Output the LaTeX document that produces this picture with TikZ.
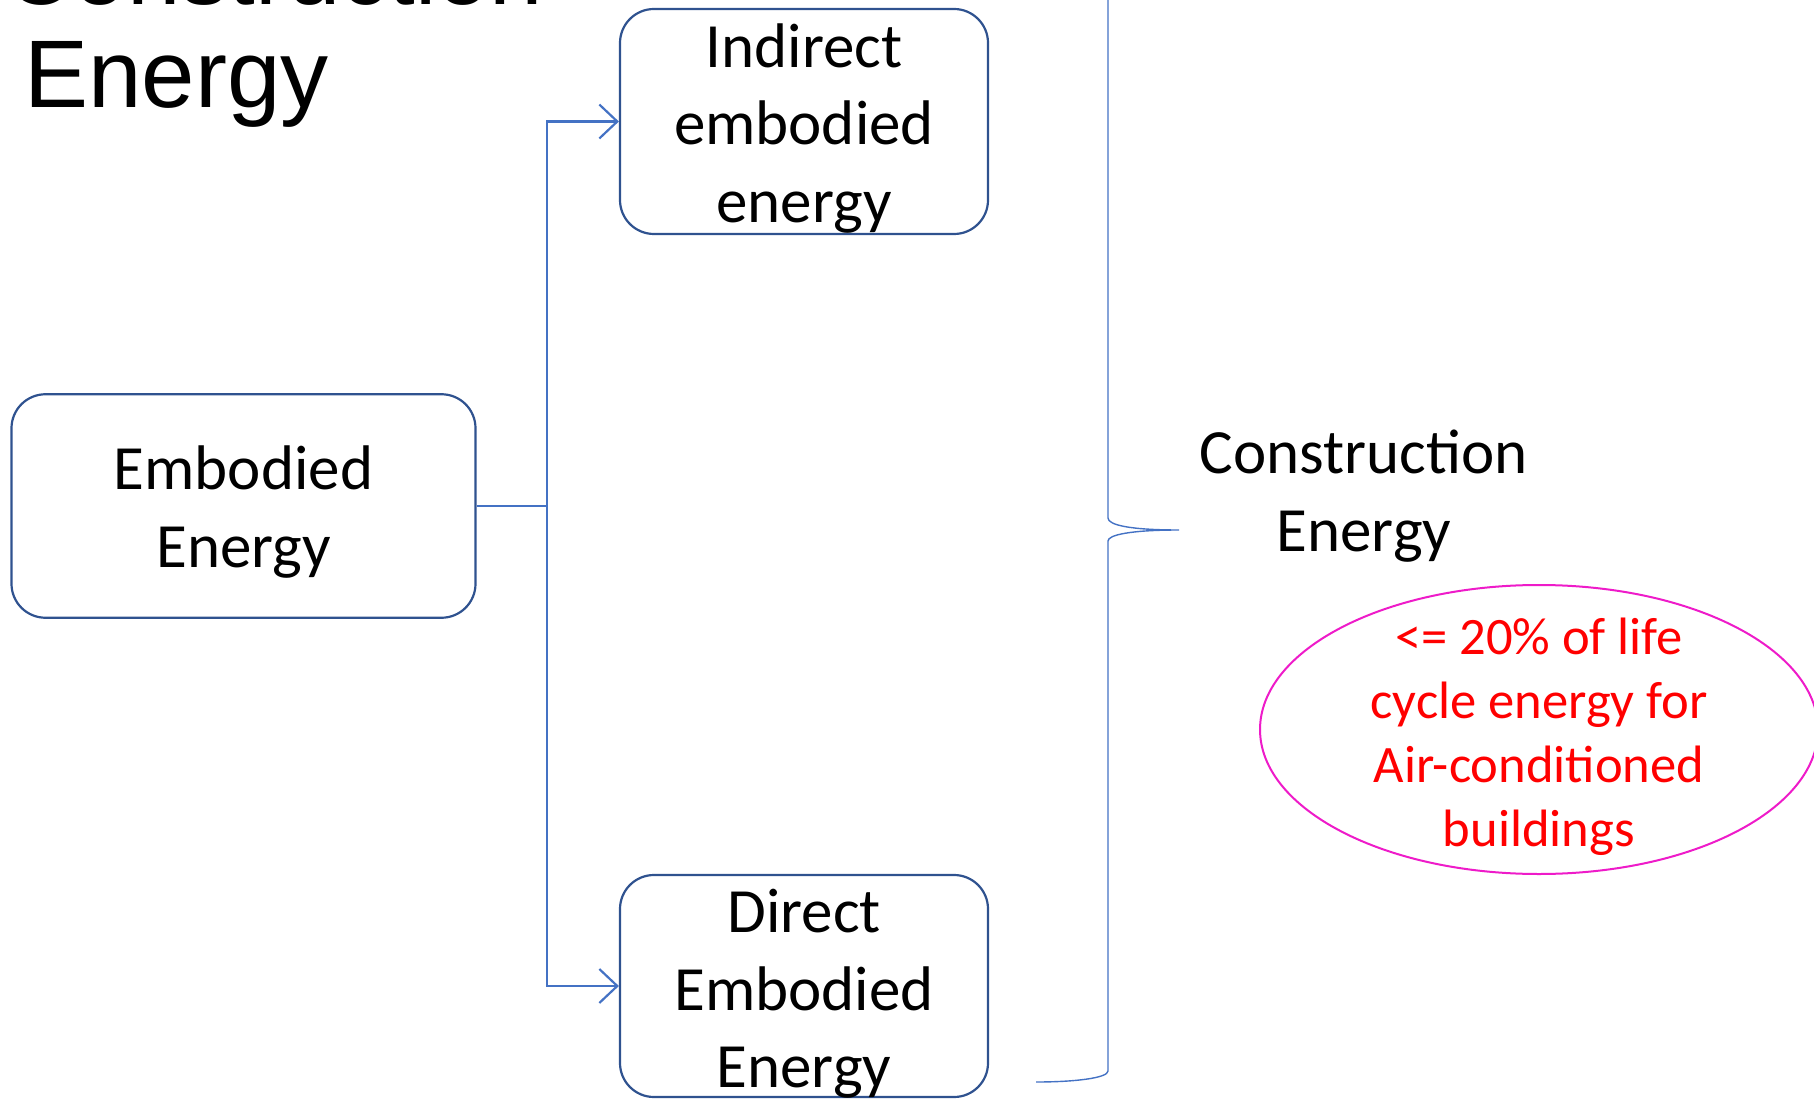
\documentclass[tikz,border=0pt]{standalone}
\usepackage{fontspec}
\setmainfont{Carlito}
\newfontfamily\titlefont{Liberation Sans}
\usetikzlibrary{arrows.meta,shapes.geometric}
\definecolor{boxline}{HTML}{2F528F}
\definecolor{linkblue}{HTML}{4472C4}
\definecolor{ovalline}{HTML}{EE1BC9}
\definecolor{notered}{HTML}{FF0000}
\begin{document}
\begin{tikzpicture}[x=0.5pt,y=-0.5pt,
  box/.style={draw=boxline, line width=1.1pt, rounded corners=17pt, inner sep=0pt},
  boxtext/.style={align=center, inner sep=0pt,
    font=\fontsize{31.5pt}{38.75pt}\selectfont},
  link/.style={draw=linkblue, line width=1.1pt,
    -{Straight Barb[length=9pt,width=17pt,line width=1.1pt]}},
  plain/.style={draw=linkblue, line width=1.1pt},
  bracestyle/.style={draw=linkblue, line width=0.7pt},
  oval/.style={ellipse, draw=ovalline, line width=1pt, inner sep=0pt,
    minimum width=279pt, minimum height=144.5pt},
  notetext/.style={text=notered, align=center, inner sep=0pt,
    font=\fontsize{26.3pt}{32pt}\selectfont}]
  \useasboundingbox (0,0) rectangle (1814,1101);

  % slide title, partly above the page edge (base = last line)
  \node[anchor=base west, align=left, inner sep=0pt,
        font=\titlefont\fontsize{48pt}{51.5pt}\selectfont] (title) at (4,108)
    {Construction\\\hspace*{10pt}Energy};

  % boxes and their texts
  \node[box, minimum width=232pt, minimum height=111.75pt] (emb) at (243.5,506) {};
  \node[boxtext] (embtext) at ([yshift=-3pt]emb.center) {Embodied\\Energy};
  \node[box, minimum width=184pt, minimum height=112.5pt] (ind) at (804,121.5) {};
  \node[boxtext] (indtext) at ([yshift=-3.5pt]ind.center) {Indirect\\embodied\\energy};
  \node[box, minimum width=184pt, minimum height=111pt] (dir) at (804,986) {};
  \node[boxtext] (dirtext) at ([yshift=-4pt]dir.center) {Direct\\Embodied\\Energy};

  % branching connector
  \coordinate (fork) at (547,506);
  \draw[plain] (emb.east) -- (fork);
  \draw[link] (fork) |- (ind.west);
  \draw[link] (fork) |- (dir.west);

  % curly brace grouping the two kinds of embodied energy
  \coordinate (tip) at (1179,530);
  \draw[bracestyle] (1036,-22) .. controls (1075,-22) and (1108,-18) .. (1108,-11)
    -- (1108,518) .. controls (1108,525) and (1130,530) .. (tip)
    .. controls (1130,530) and (1108,535) .. (1108,541)
    -- (1108,1071) .. controls (1108,1078) and (1075,1082) .. (1036,1082);

  \node[boxtext] (cons) at (1364,496) {Construction\\Energy};

  \node[oval] (share) at (1539,729.5) {};
  \node[notetext] (sharetext) at (1539,737)
    {<= 20\% of life\\cycle energy for\\Air-conditioned\\buildings};
\end{tikzpicture}
\end{document}
